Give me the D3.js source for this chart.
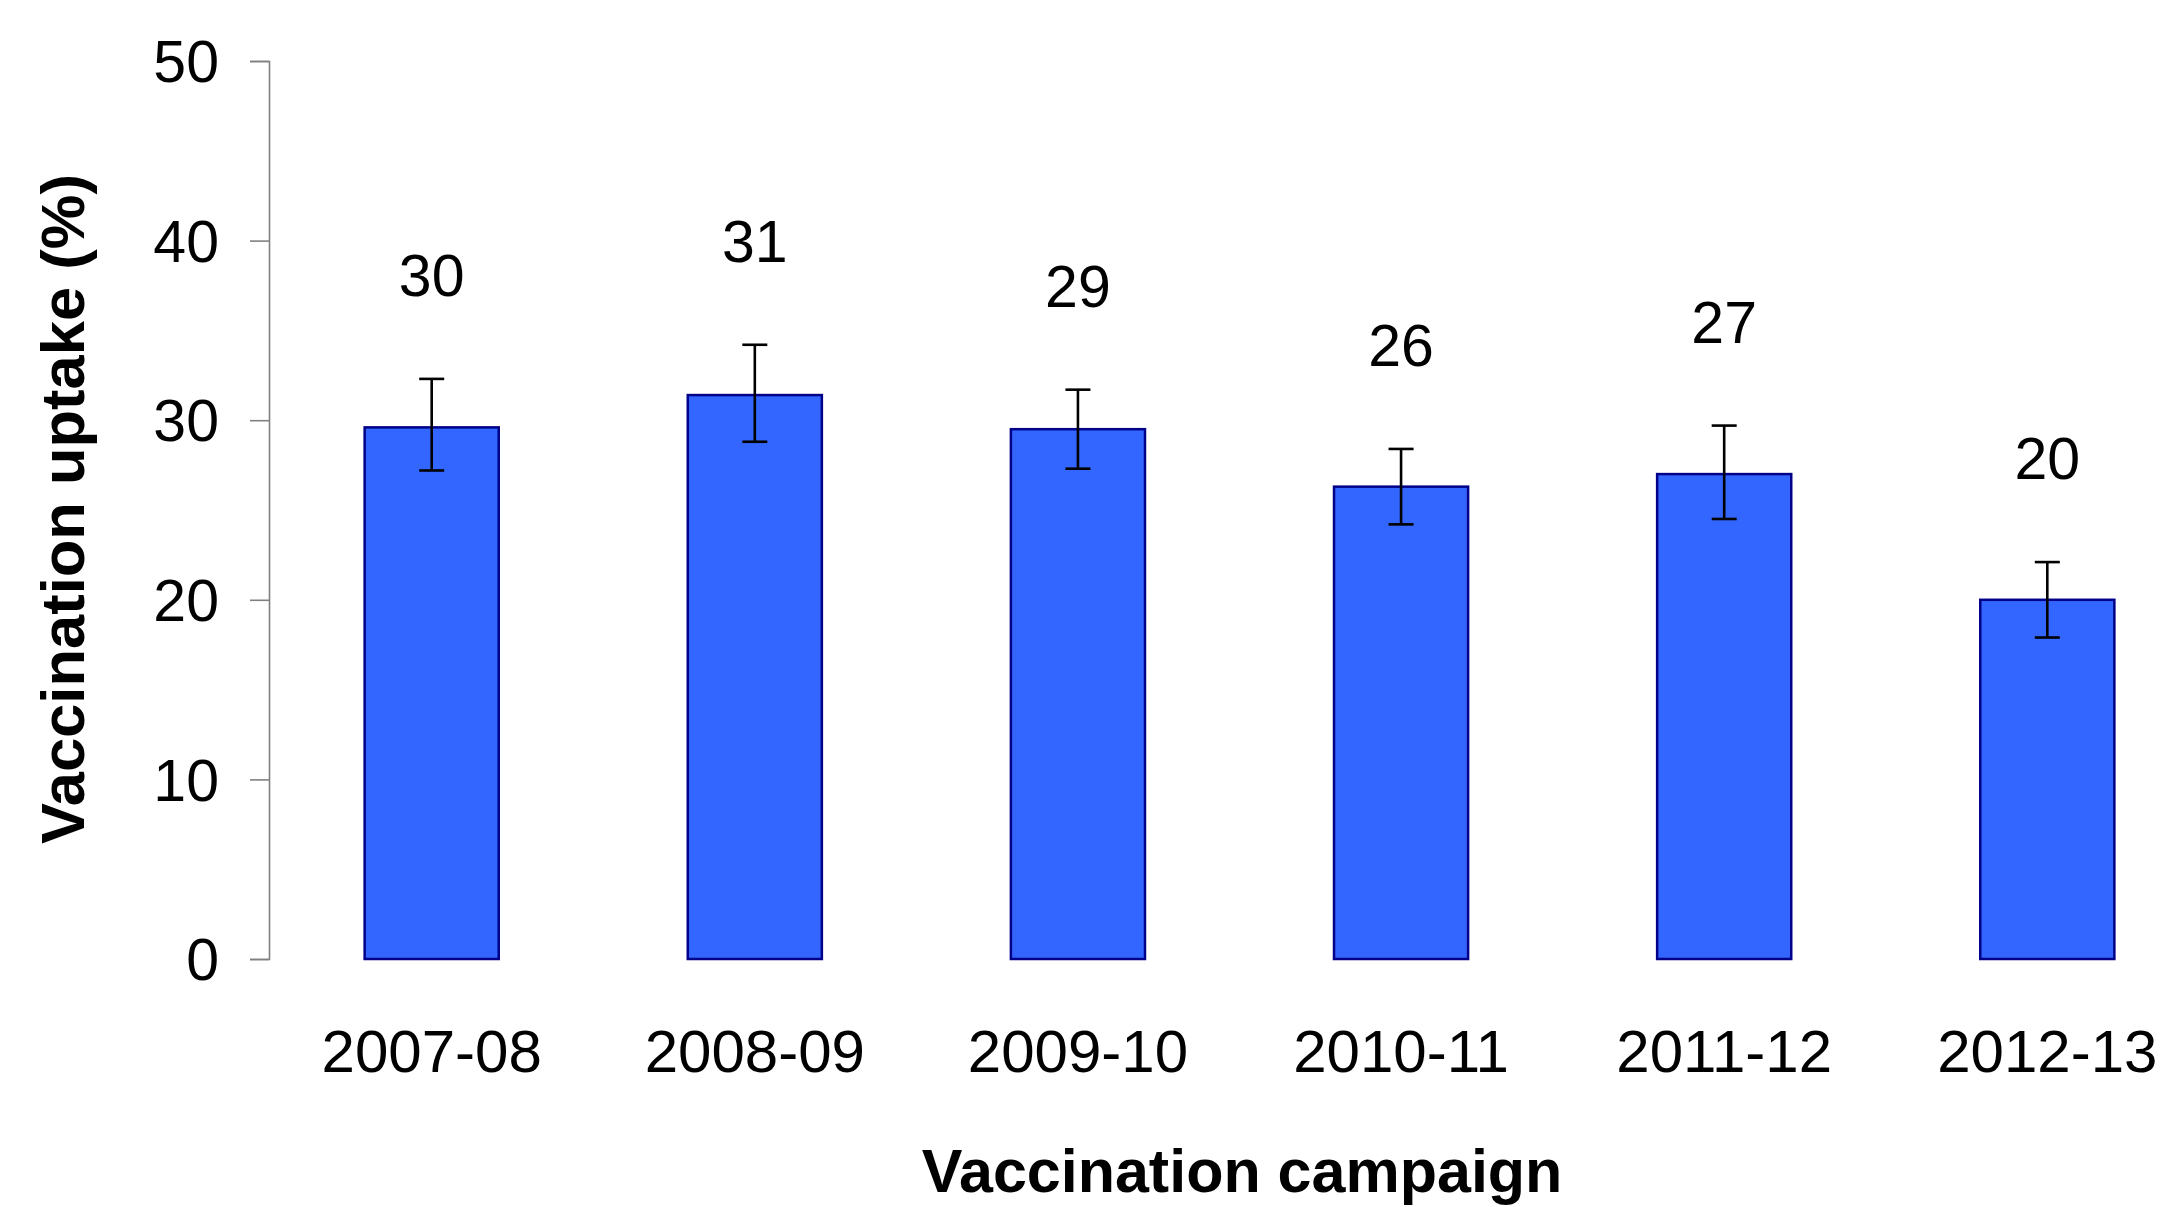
<!DOCTYPE html>
<html>
<head>
<meta charset="utf-8">
<script src="https://cdn.jsdelivr.net/npm/d3@7"></script>
<style>
  html, body { margin: 0; padding: 0; background: #ffffff; }
  svg { display: block; }
  text { font-family: "Liberation Sans", Arial, sans-serif; fill: #000; }
</style>
</head>
<body>
<svg id="chart" width="2163" height="1207"></svg>
<script>
const categories = ["2007-08", "2008-09", "2009-10", "2010-11", "2011-12", "2012-13"];
const uptake     = [29.6, 31.4, 29.5, 26.3, 27.0, 20.0];
const lowerCI    = [27.2, 28.8, 27.3, 24.2, 24.5, 17.9];
const upperCI    = [32.3, 34.2, 31.7, 28.4, 29.7, 22.1];
const valueLabels = ["30", "31", "29", "26", "27", "20"];
const yTicks     = [0, 10, 20, 30, 40, 50];
const yTitle = "Vaccination uptake (%)";
const xTitle = "Vaccination campaign";

const svg = d3.select("#chart");

const y = d3.scaleLinear().domain([0, 50]).range([959, 61]);
const x = d3.scaleBand().domain(categories).range([269, 2210])
  .paddingInner(0.585).paddingOuter(0.296);

const data = categories.map((c, i) => ({
  c, v: uptake[i], lo: lowerCI[i], hi: upperCI[i], label: valueLabels[i]
}));

// Y axis
const yAxis = d3.axisLeft(y).tickValues(yTicks).tickSize(19).tickPadding(31)
  .tickFormat(d3.format("d"));
const gy = svg.append("g").attr("transform", "translate(269,0)").call(yAxis);
gy.select(".domain").attr("stroke", "#808080").attr("stroke-width", 1.6);
gy.selectAll(".tick line").attr("stroke", "#808080").attr("stroke-width", 1.6);
gy.selectAll(".tick text").attr("font-size", 59).attr("fill", "#000")
  .attr("font-family", "Liberation Sans, Arial, sans-serif").attr("dy", "0.35em");

// Bars
svg.append("g").selectAll("rect").data(data).join("rect")
  .attr("x", d => x(d.c))
  .attr("y", d => y(d.v))
  .attr("width", x.bandwidth())
  .attr("height", d => y(0) - y(d.v))
  .attr("fill", "#3366ff")
  .attr("stroke", "#000088")
  .attr("stroke-width", 2.5);

// Error bars
const cx = d => x(d.c) + x.bandwidth() / 2;
const eb = svg.append("g").attr("stroke", "#000").attr("stroke-width", 2.6);
eb.selectAll("line.v").data(data).join("line").attr("class", "v")
  .attr("x1", cx).attr("x2", cx).attr("y1", d => y(d.hi)).attr("y2", d => y(d.lo));
eb.selectAll("line.t").data(data).join("line").attr("class", "t")
  .attr("x1", d => cx(d) - 12.5).attr("x2", d => cx(d) + 12.5)
  .attr("y1", d => y(d.hi)).attr("y2", d => y(d.hi));
eb.selectAll("line.b").data(data).join("line").attr("class", "b")
  .attr("x1", d => cx(d) - 12.5).attr("x2", d => cx(d) + 12.5)
  .attr("y1", d => y(d.lo)).attr("y2", d => y(d.lo));

// Value labels
svg.append("g").selectAll("text").data(data).join("text")
  .attr("x", cx)
  .attr("y", d => y(d.hi) - 83)
  .attr("text-anchor", "middle")
  .attr("font-size", 59)
  .text(d => d.label);

// X category labels
svg.append("g").selectAll("text").data(data).join("text")
  .attr("x", cx)
  .attr("y", 1072)
  .attr("text-anchor", "middle")
  .attr("font-size", 60)
  .text(d => d.c);

// X title
svg.append("text")
  .attr("x", 1242).attr("y", 1192)
  .attr("text-anchor", "middle")
  .attr("font-size", 61)
  .attr("font-weight", "bold")
  .text(xTitle);

// Y title
svg.append("text")
  .attr("transform", "translate(84,509) rotate(-90)")
  .attr("text-anchor", "middle")
  .attr("font-size", 61.5)
  .attr("font-weight", "bold")
  .text(yTitle);
</script>
</body>
</html>
